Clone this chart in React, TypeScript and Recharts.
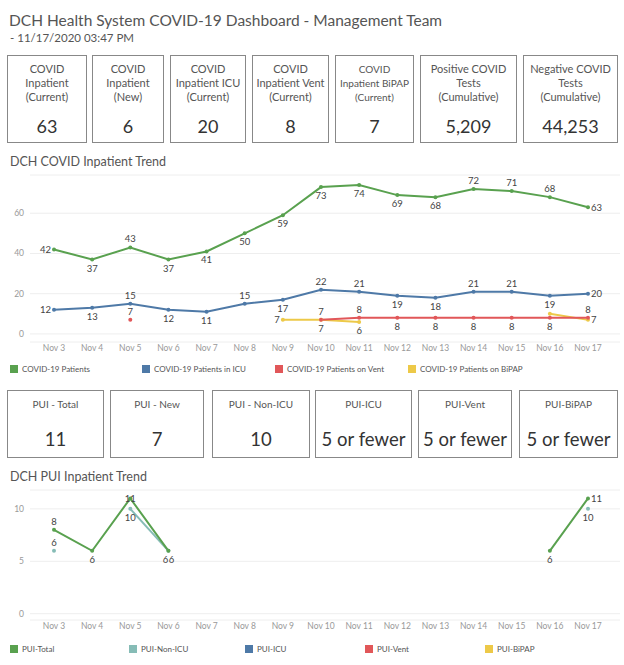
import React from "react"
import { LineChart, Line, XAxis, YAxis, CartesianGrid } from "recharts"

// dates on both trend charts
const days = ["Nov 3", "Nov 4", "Nov 5", "Nov 6", "Nov 7", "Nov 8", "Nov 9", "Nov 10", "Nov 11", "Nov 12", "Nov 13", "Nov 14", "Nov 15", "Nov 16", "Nov 17"]

// COVID inpatient trend
const covidPatients = [42, 37, 43, 37, 41, 50, 59, 73, 74, 69, 68, 72, 71, 68, 63]
const covidIcu = [12, 13, 15, 12, 11, 15, 17, 22, 21, 19, 18, 21, 21, 19, 20]
const covidVent = [null, null, 7, null, null, null, null, 7, 8, 8, 8, 8, 8, 8, 8]
const covidBipap = [null, null, null, null, null, null, 7, 7, 6, null, null, null, null, 10, 7]

// PUI inpatient trend
const puiTotal = [8, 6, 11, 6, null, null, null, null, null, null, null, null, null, 6, 11]
const puiNonIcu = [6, null, 10, 6, null, null, null, null, null, null, null, null, null, null, 10]

const covidTicks = [0, 20, 40, 60]
const puiTicks = [0, 5, 10]

// KPI tiles
const kpiLabels = [
  ["COVID", "Inpatient", "(Current)"],
  ["COVID", "Inpatient", "(New)"],
  ["COVID", "Inpatient ICU", "(Current)"],
  ["COVID", "Inpatient Vent", "(Current)"],
  ["COVID", "Inpatient BiPAP", "(Current)"],
  ["Positive COVID", "Tests", "(Cumulative)"],
  ["Negative COVID", "Tests", "(Cumulative)"],
]
const kpiValues = ["63", "6", "20", "8", "7", "5,209", "44,253"]

const puiLabels = ["PUI - Total", "PUI - New", "PUI - Non-ICU", "PUI-ICU", "PUI-Vent", "PUI-BiPAP"]
const puiValues = ["11", "7", "10", "5 or fewer", "5 or fewer", "5 or fewer"]

const covidLegend = ["COVID-19 Patients", "COVID-19 Patients in ICU", "COVID-19 Patients on Vent", "COVID-19 Patients on BiPAP"]
const puiLegend = ["PUI-Total", "PUI-Non-ICU", "PUI-ICU", "PUI-Vent", "PUI-BiPAP"]

// layout / styling
const FONT = "Lato, sans-serif"
const GREEN = "#59a14f"
const BLUE = "#4e79a7"
const RED = "#e15759"
const YELLOW = "#edc948"
const TEAL = "#86bcb6"

const kpiLeft = [7, 92, 170, 252, 335, 420, 523]
const kpiRight = [87, 164, 246, 329, 414, 517, 618]
const puiLeft = [7, 110, 212, 315, 418, 519]
const puiRight = [104, 204, 310, 412, 512, 618]
const covidLegendX = [10, 142, 275, 408]
const puiLegendX = [10, 129, 245, 365, 485]

// label placement per point: t=top b=bottom l=left r=right n=none
const posPatients = ["l", "b", "t", "b", "b", "b", "b", "b", "b", "b", "b", "t", "t", "t", "r"]
const posIcu = ["l", "b", "t", "b", "b", "t", "b", "t", "t", "b", "b", "t", "t", "b", "r"]
const posVent = ["", "", "t", "", "", "", "", "t", "t", "b", "b", "b", "b", "b", "t"]
const posBipap = ["", "", "", "", "", "", "l", "b", "b", "", "", "", "", "n", "r"]
const posPuiTotal = ["t", "b", "c", "bl", "", "", "", "", "", "", "", "", "", "b", "r"]
const posPuiNonIcu = ["t", "", "b", "br", "", "", "", "", "", "", "", "", "", "", "b"]

const makeDot = (values: (number | null)[], pos: string[], color: string) => (props: any) => {
  const { cx, cy, index } = props
  const v = values[index]
  if (v == null || cy == null || Number.isNaN(cy)) return <g key={`d-${index}`} />
  const p = pos[index] || "n"
  let tx = cx
  let ty = cy
  let anchor: "start" | "middle" | "end" = "middle"
  if (p === "t") ty = cy - 5
  if (p === "b") ty = cy + 12
  if (p === "c") ty = cy + 4
  if (p === "bl") { ty = cy + 12; tx = cx - 3 }
  if (p === "br") { ty = cy + 12; tx = cx + 3 }
  if (p === "l") { tx = cx - 3; ty = cy + 3.5; anchor = "end" }
  if (p === "r") { tx = cx + 3; ty = cy + 3.5; anchor = "start" }
  return (
    <g key={`d-${index}`}>
      <circle cx={cx} cy={cy} r={2} fill={color} />
      {p !== "n" && (
        <text x={tx} y={ty} textAnchor={anchor} fontSize={9.5} fill="#444" fontFamily={FONT}>
          {v}
        </text>
      )}
    </g>
  )
}

const covidData = days.map((d, i) => ({
  day: d,
  patients: covidPatients[i],
  icu: covidIcu[i],
  vent: covidVent[i],
  bipap: covidBipap[i],
}))

const puiData = days.map((d, i) => ({
  day: d,
  total: puiTotal[i],
  nonIcu: puiNonIcu[i],
}))

const legendColorsCovid = [GREEN, BLUE, RED, YELLOW]
const legendColorsPui = [GREEN, TEAL, BLUE, RED, YELLOW]

function LegendRow({ labels, xs, colors, y }: { labels: string[]; xs: number[]; colors: string[]; y: number }) {
  return (
    <>
      {labels.map((l, i) => (
        <div key={l} style={{ position: "absolute", left: xs[i], top: y - 5, height: 10, display: "flex", alignItems: "center", whiteSpace: "nowrap" }}>
          <div style={{ width: 8, height: 8, background: colors[i], marginRight: 4 }} />
          <span style={{ fontSize: 8, color: "#555" }}>{l}</span>
        </div>
      ))}
    </>
  )
}

export default function App() {
  const tick = { fill: "#999", fontSize: 8.5, fontFamily: FONT }
  return (
    <div style={{ position: "absolute", left: 0, top: 0, width: 624, height: 665, background: "#fff", fontFamily: FONT, overflow: "hidden" }}>
      <div style={{ position: "absolute", left: 9, top: 10, fontSize: 15.5, lineHeight: "20px", color: "#555", whiteSpace: "nowrap" }}>
        DCH Health System COVID-19 Dashboard - Management Team
      </div>
      <div style={{ position: "absolute", left: 10, top: 30, fontSize: 11.5, lineHeight: "16px", color: "#555" }}>- 11/17/2020 03:47 PM</div>

      {kpiLabels.map((lines, i) => (
        <div
          key={i}
          style={{
            position: "absolute",
            left: kpiLeft[i],
            top: 55,
            width: kpiRight[i] - kpiLeft[i],
            height: 88,
            border: "1px solid #888",
            boxSizing: "border-box",
            textAlign: "center",
            color: "#555",
          }}
        >
          <div style={{ position: "absolute", top: 6, left: 0, right: 0, fontSize: i === 4 ? 10 : 11, lineHeight: "14px" }}>
            {lines.map((t) => (
              <div key={t}>{t}</div>
            ))}
          </div>
          <div style={{ position: "absolute", top: 59, left: 0, right: 0, fontSize: 18, lineHeight: "22px", color: "#333" }}>{kpiValues[i]}</div>
        </div>
      ))}

      <div style={{ position: "absolute", left: 10, top: 153, fontSize: 12.5, lineHeight: "18px", color: "#555" }}>DCH COVID Inpatient Trend</div>
      <div style={{ position: "absolute", left: 0, top: 165 }}>
        <LineChart width={624} height={193} data={covidData} margin={{ top: 10, right: 4, bottom: 0, left: 0 }}>
          <CartesianGrid vertical={false} stroke="#eee" />
          <XAxis dataKey="day" scale="point" padding={{ left: 24, right: 32 }} axisLine={false} tickLine={false} tickSize={0} tickMargin={3} height={16} tick={tick} interval={0} />
          <YAxis type="number" domain={[-4, 79]} ticks={covidTicks} axisLine={false} tickLine={false} tickSize={0} tickMargin={6} width={30} tick={tick} />
          <Line dataKey="patients" stroke={GREEN} strokeWidth={2} dot={makeDot(covidPatients, posPatients, GREEN)} isAnimationActive={false} />
          <Line dataKey="icu" stroke={BLUE} strokeWidth={2} dot={makeDot(covidIcu, posIcu, BLUE)} isAnimationActive={false} />
          <Line dataKey="bipap" stroke={YELLOW} strokeWidth={2} dot={makeDot(covidBipap, posBipap, YELLOW)} isAnimationActive={false} />
          <Line dataKey="vent" stroke={RED} strokeWidth={2} dot={makeDot(covidVent, posVent, RED)} isAnimationActive={false} />
        </LineChart>
      </div>
      <LegendRow labels={covidLegend} xs={covidLegendX} colors={legendColorsCovid} y={369} />

      {puiLabels.map((l, i) => (
        <div
          key={l}
          style={{
            position: "absolute",
            left: puiLeft[i],
            top: 390,
            width: puiRight[i] - puiLeft[i],
            height: 68,
            border: "1px solid #888",
            boxSizing: "border-box",
            textAlign: "center",
            color: "#555",
          }}
        >
          <div style={{ position: "absolute", top: 6, left: 0, right: 0, fontSize: 10, lineHeight: "14px" }}>{l}</div>
          <div style={{ position: "absolute", top: 35, left: 0, right: 0, fontSize: 18.5, lineHeight: "26px", color: "#333", whiteSpace: "nowrap" }}>
            {puiValues[i]}
          </div>
        </div>
      ))}

      <div style={{ position: "absolute", left: 10, top: 468, fontSize: 12.5, lineHeight: "18px", color: "#555" }}>DCH PUI Inpatient Trend</div>
      <div style={{ position: "absolute", left: 0, top: 480 }}>
        <LineChart width={624} height={156} data={puiData} margin={{ top: 10, right: 4, bottom: 0, left: 0 }}>
          <CartesianGrid vertical={false} stroke="#eee" />
          <XAxis dataKey="day" scale="point" padding={{ left: 24, right: 32 }} axisLine={false} tickLine={false} tickSize={0} tickMargin={3} height={16} tick={tick} interval={0} />
          <YAxis type="number" domain={[-0.6, 11.8]} ticks={puiTicks} axisLine={false} tickLine={false} tickSize={0} tickMargin={6} width={30} tick={tick} />
          <Line dataKey="nonIcu" stroke={TEAL} strokeWidth={2} dot={makeDot(puiNonIcu, posPuiNonIcu, TEAL)} isAnimationActive={false} />
          <Line dataKey="total" stroke={GREEN} strokeWidth={2} dot={makeDot(puiTotal, posPuiTotal, GREEN)} isAnimationActive={false} />
        </LineChart>
      </div>
      <LegendRow labels={puiLegend} xs={puiLegendX} colors={legendColorsPui} y={649} />
    </div>
  )
}
